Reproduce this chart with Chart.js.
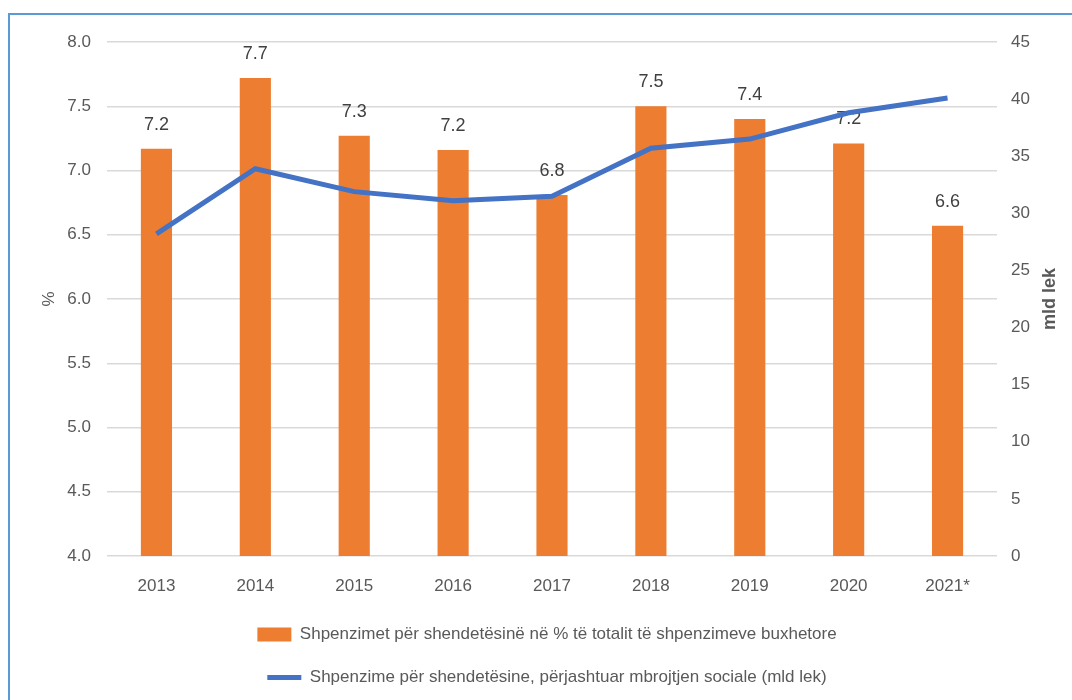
<!DOCTYPE html>
<html>
<head>
<meta charset="utf-8">
<script src="https://cdn.jsdelivr.net/npm/chart.js@4.4.1/dist/chart.umd.min.js"></script>
<style>
  html, body { margin: 0; padding: 0; background: #fff; overflow: hidden; }
  #frame { position: absolute; left: 8px; top: 13px; width: 1200px; height: 900px; border: 2px solid #5b9bd5; box-sizing: border-box; }
  #wrap { position: absolute; left: 0; top: 0; width: 1072px; height: 700px; }
</style>
</head>
<body>
<div id="frame"></div>
<div id="wrap"><canvas id="c" width="1072" height="700"></canvas></div>
<script>
const categories = ['2013', '2014', '2015', '2016', '2017', '2018', '2019', '2020', '2021*'];
const pctValues = [7.17, 7.72, 7.27, 7.16, 6.81, 7.50, 7.40, 7.21, 6.57];
const mldValues = [28.2, 33.9, 31.9, 31.1, 31.5, 35.7, 36.5, 38.8, 40.1];
const pctLabel = 'Shpenzimet për shendetësinë në % të totalit të shpenzimeve buxhetore';
const mldLabel = 'Shpenzime për shendetësine, përjashtuar mbrojtjen sociale (mld lek)';

const FONT = "'Liberation Sans Narrow', 'Liberation Sans', Arial, sans-serif";
const GRAY = '#595959';

const valueLabels = {
  id: 'valueLabels',
  afterDatasetDraw(chart, args) {
    if (args.index !== 1) return;
    const ctx = chart.ctx;
    const meta = args.meta;
    ctx.save();
    ctx.font = "18px " + FONT;
    ctx.fillStyle = '#404040';
    ctx.textAlign = 'center';
    ctx.textBaseline = 'middle';
    meta.data.forEach((el, i) => {
      ctx.fillText(pctValues[i].toFixed(1), el.x, el.y - 24);
    });
    ctx.restore();
  }
};

const rightTitle = {
  id: 'rightTitle',
  afterDraw(chart) {
    const s = chart.scales.y1;
    const ctx = chart.ctx;
    ctx.save();
    ctx.font = "bold 18px " + FONT;
    ctx.fillStyle = GRAY;
    ctx.textAlign = 'center';
    ctx.textBaseline = 'middle';
    ctx.translate(s.right - 14, (s.top + s.bottom) / 2);
    ctx.rotate(-Math.PI / 2);
    ctx.fillText('mld lek', 0, 0);
    ctx.restore();
  }
};

new Chart(document.getElementById('c'), {
  data: {
    labels: categories,
    datasets: [
      {
        type: 'line',
        label: mldLabel,
        data: mldValues,
        yAxisID: 'y1',
        borderColor: '#4472c4',
        backgroundColor: '#4472c4',
        borderWidth: 5,
        pointRadius: 0,
        pointHoverRadius: 0,
        tension: 0,
        pointStyle: 'line',
        order: 1
      },
      {
        type: 'bar',
        label: pctLabel,
        data: pctValues,
        yAxisID: 'y',
        backgroundColor: '#ed7d31',
        categoryPercentage: 1,
        barPercentage: 0.315,
        pointStyle: 'rect',
        order: 2
      }
    ]
  },
  options: {
    responsive: false,
    animation: false,
    layout: { padding: { left: 30, right: 8, top: 42, bottom: 4 } },
    plugins: {
      tooltip: { enabled: false },
      legend: {
        position: 'bottom',
        reverse: true,
        labels: {
          font: { family: FONT, size: 17 },
          color: GRAY,
          usePointStyle: true,
          pointStyleWidth: 34,
          boxHeight: 14,
          padding: 26
        }
      }
    },
    scales: {
      x: {
        grid: { display: false },
        border: { display: false },
        ticks: { font: { family: FONT, size: 17 }, color: GRAY, padding: 12 },
        afterFit(s) { s.height = 44; }
      },
      y: {
        position: 'left',
        min: 4, max: 8,
        ticks: { stepSize: 0.5, font: { family: FONT, size: 17 }, color: GRAY, padding: 16,
          callback: v => Number(v).toFixed(1) },
        grid: { color: '#d9d9d9', lineWidth: 1.5, drawTicks: false },
        border: { display: false },
        title: { display: true, text: '%', font: { family: FONT, size: 17 }, color: GRAY, padding: { top: 9, bottom: 0 } },
        afterFit(s) { s.width = 77; }
      },
      y1: {
        position: 'right',
        min: 0, max: 45,
        ticks: { stepSize: 5, font: { family: FONT, size: 17 }, color: GRAY, padding: 14 },
        grid: { display: false, drawTicks: false },
        border: { display: false },
        afterFit(s) { s.width = 67; }
      }
    }
  },
  plugins: [valueLabels, rightTitle]
});
</script>
</body>
</html>
